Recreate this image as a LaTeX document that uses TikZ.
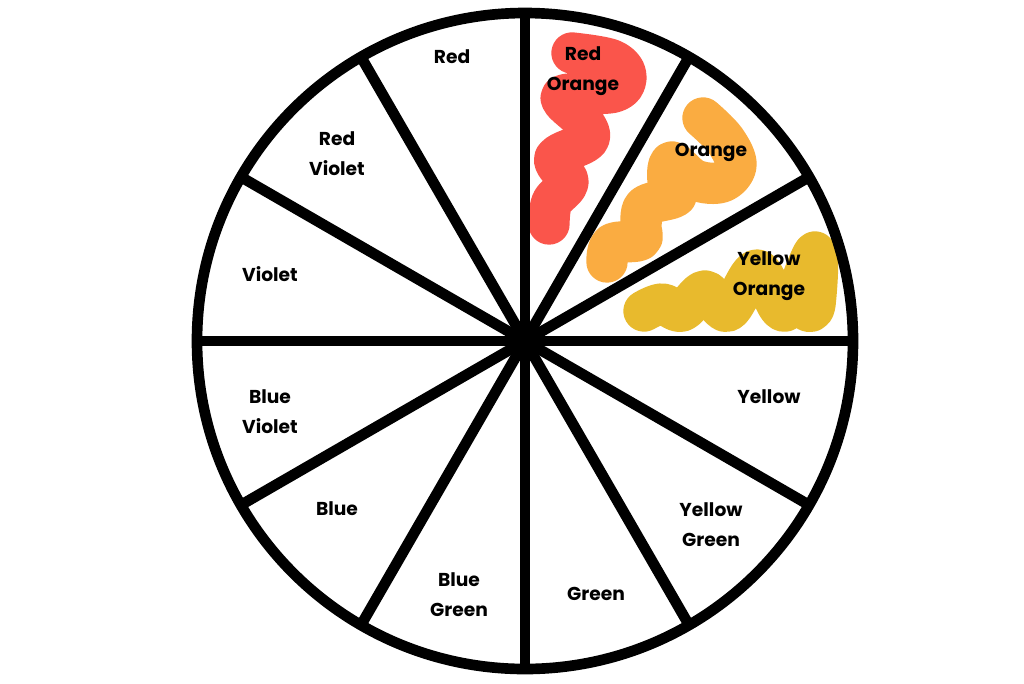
\documentclass[tikz,border=0pt]{standalone}
\usepackage{fontspec}
\setmainfont{Poppins}
\usetikzlibrary{calc}
\definecolor{redc}{RGB}{250,85,75}
\definecolor{orangec}{RGB}{250,172,65}
\definecolor{yellowc}{RGB}{232,186,45}
\tikzset{
  squig/.style={line width=31pt, line cap=round, line join=round},
  spoke/.style={line width=8pt, black},
  lbl/.style={font=\bfseries\fontsize{14}{22.5}\selectfont, align=center, inner sep=0pt}
}
\begin{document}
\begin{tikzpicture}[x=0.75pt,y=-0.75pt]
\path[use as bounding box] (0,0) rectangle (1024,683);
\coordinate (c) at (525,341);
% squiggles
\draw[squig, redc] plot[smooth, tension=0.6] coordinates {(572,53) (612,60) (626,76) (614,92) (562,96) (582,120) (588,140) (555,158) (568,182) (552,202) (549,224)};
\draw[squig, orangec] plot[smooth, tension=0.6] coordinates {(703,118) (725,140) (736,165) (722,182) (695,180) (672,162) (668,180) (676,196) (645,206) (641,226) (640,240) (612,244) (607,262)};
\draw[squig, yellowc] plot[smooth, tension=0.6] coordinates {(644,311) (662,304) (682,311) (705,291) (728,311) (757,270) (785,311) (815,252) (815,304) (808,311)};
% wheel
\draw[spoke] (c) circle (328);
\foreach \a in {0,30,...,150}{
  \draw[spoke] ($(c)+(\a:328)$) -- ($(c)+(\a+180:328)$);
}
\fill (c) circle (15);
% labels
\node[lbl] (red) at (452,57) {Red};
\node[lbl] (ro) at (583,71) {Red\\Orange};
\node[lbl] (or) at (711,152) {Orange};
\node[lbl] (yo) at (769,276) {Yellow\\Orange};
\node[lbl] (ye) at (769,397) {Yellow};
\node[lbl] (yg) at (711,525) {Yellow\\Green};
\node[lbl] (gr) at (596,594) {Green};
\node[lbl] (bg) at (459,595) {Blue\\Green};
\node[lbl] (bl) at (337,509) {Blue};
\node[lbl] (bv) at (270,412) {Blue\\Violet};
\node[lbl] (vi) at (270,274) {Violet};
\node[lbl] (rv) at (337,154) {Red\\Violet};
\end{tikzpicture}
\end{document}
